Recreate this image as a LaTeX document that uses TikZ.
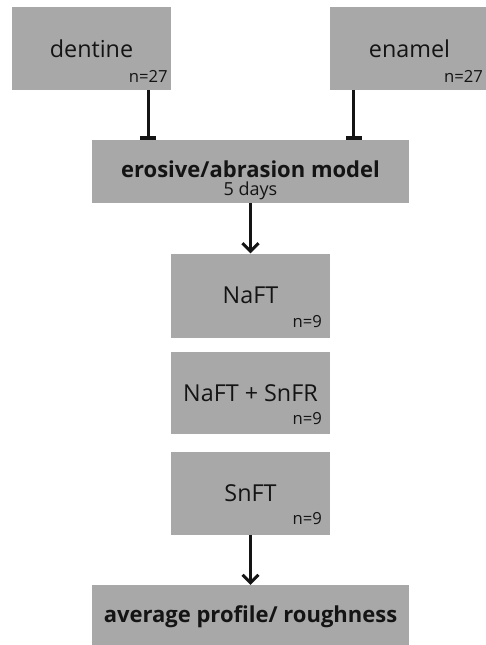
\documentclass[tikz,border=0pt]{standalone}
\usepackage{fontspec}
\setmainfont{Open Sans}
\usetikzlibrary{positioning, arrows.meta}
\definecolor{boxgray}{RGB}{168,168,168}
\definecolor{inkblack}{RGB}{20,20,20}

\begin{document}
\begin{tikzpicture}[
    x=0.75pt, y=-0.75pt,
    box/.style={rectangle, fill=boxgray, minimum width=119.25pt, minimum height=62.25pt, align=center, text=inkblack, font=\fontsize{17.5}{20}\selectfont, inner sep=0pt},
    widebox/.style={box, minimum width=237.75pt, minimum height=47.25pt, font=\fontsize{16.5}{20}\bfseries},
    count/.style={font=\fontsize{12.5}{14}\selectfont, text=inkblack, inner sep=0pt, anchor=base east},
    arrow/.style={-{Straight Barb[length=6pt, width=12pt, line width=2.2pt]}, line width=2.2pt, inkblack},
    barline/.style={-{Bar[width=12pt, line width=2.6pt]}, line width=2.2pt, inkblack}
]
    \useasboundingbox (0,0) rectangle (485,645);

    % Samples
    \node[box] (dentine) at (91.5,48.5) {dentine};
    \node[count, xshift=-2.5pt, yshift=6pt] at (dentine.south east) {n=27};
    \node[box] (enamel) at (409.5,48.5) {enamel};
    \node[count, xshift=-4.5pt, yshift=6pt] at (enamel.south east) {n=27};

    % Model
    \node[widebox] (model) at (250.5,171.5) {\raisebox{3.5pt}{erosive/abrasion model}};
    \node[count, font=\fontsize{13.5}{14}\selectfont, anchor=base, yshift=6pt] at (model.south) {5 days};

    % Treatments
    \node[box, minimum height=63pt, below=37.5pt of model] (naft) {\raisebox{-4pt}{NaFT}};
    \node[count, xshift=-6pt, yshift=7.5pt] at (naft.south east) {n=9};
    \node[box, minimum height=61.5pt, below=10.5pt of naft] (mixed) {\raisebox{-1.5pt}{NaFT + SnFR}};
    \node[count, xshift=-6pt, yshift=7.5pt] at (mixed.south east) {n=9};
    \node[box, below=12.75pt of mixed] (snft) {SnFT};
    \node[count, xshift=-6pt, yshift=7.5pt] at (snft.south east) {n=9};

    % Outcome
    \node[widebox, below=37.5pt of snft] (result) {average profile/ roughness};

    % Connectors
    \coordinate (dfoot) at ([xshift=-17.25pt]dentine.south east);
    \coordinate (efoot) at ([xshift=18pt]enamel.south west);
    \draw[barline] (dfoot) -- (dfoot |- model.north);
    \draw[barline] (efoot) -- (efoot |- model.north);
    \draw[arrow] (model) -- (naft);
    \draw[arrow] (snft) -- (result);

\end{tikzpicture}
\end{document}
